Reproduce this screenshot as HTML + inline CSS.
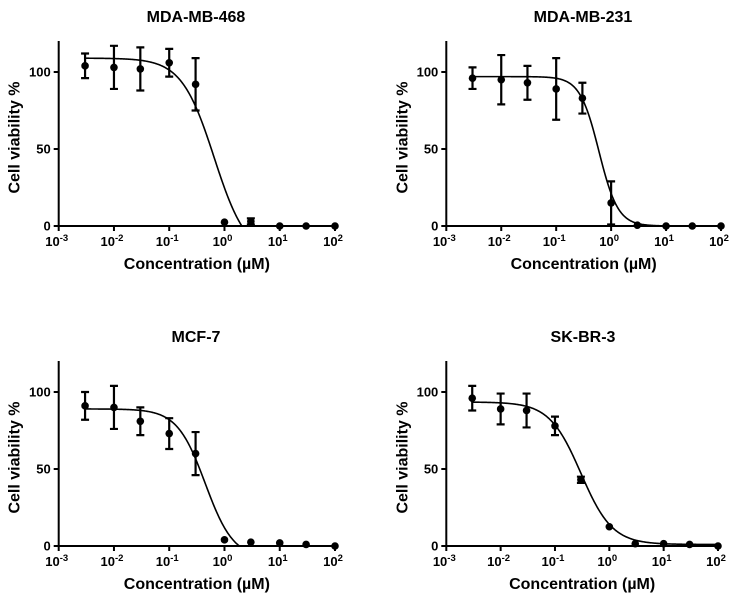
<!DOCTYPE html>
<html><head><meta charset="utf-8"><style>
html,body{margin:0;padding:0;background:#fff}
svg{display:block;font-family:"Liberation Sans",Arial,sans-serif;font-weight:bold}
</style></head><body>
<svg id="fig" width="740" height="600" viewBox="0 0 740 600" xmlns="http://www.w3.org/2000/svg"></svg>
<script>
const concentrations=[0.003,0.01,0.03,0.1,0.3,1,3,10,30,100];
const titles=["MDA-MB-468","MDA-MB-231","MCF-7","SK-BR-3"];
const viab468=[104,103,102,106,92,2.5,3,0,0,0];
const err468=[8,14,14,9,17,0,2,0,0,0];
const viab231=[96,95,93,89,83,15,0.5,0,0,0];
const err231=[7,16,11,20,10,14,0,0,0,0];
const viabMCF7=[91,90,81,73,60,4,2.5,2,1,0];
const errMCF7=[9,14,9,10,14,0,0,0,0,0];
const viabSKBR3=[96,89,88,78,43,12.5,1.5,1.5,1,0];
const errSKBR3=[8,10,11,6,2,0,0,0,0,0];
// 4PL fit params: top, bottom, ec50, hill
const fit468=[109,-20,0.65,1.47];
const fit231=[97,0,0.6,2.5];
const fitMCF7=[89,-8,0.45,1.7];
const fitSKBR3=[93.5,1,0.3,1.5];
const xTickExp=[-3,-2,-1,0,1,2];
const yTicks=[0,50,100];

const NS="http://www.w3.org/2000/svg";
const svg=document.getElementById('fig');
function mk(t,a,p){const e=document.createElementNS(NS,t);for(const k in a)e.setAttribute(k,a[k]);(p||svg).appendChild(e);return e;}
const panels=[
 {x0:58.7,x1:335,y0:226,y100:72,ytop:41,cx:196,ty:22,vals:viab468,errs:err468,fit:fit468,key:'mda-mb-468'},
 {x0:446.3,x1:721,y0:226,y100:72,ytop:41,cx:583,ty:22,vals:viab231,errs:err231,fit:fit231,key:'mda-mb-231'},
 {x0:58.7,x1:335,y0:546,y100:392,ytop:361,cx:196,ty:342,vals:viabMCF7,errs:errMCF7,fit:fitMCF7,key:'mcf-7'},
 {x0:446.3,x1:718,y0:546,y100:392,ytop:361,cx:583,ty:342,vals:viabSKBR3,errs:errSKBR3,fit:fitSKBR3,key:'sk-br-3'}
];
panels.forEach((p,i)=>{
 const g=mk('g',{});
 
 
 const X=v=>p.x0+(Math.log10(v)+3)*(p.x1-p.x0)/5;
 const Y=v=>p.y0-(v/100)*(p.y0-p.y100);
 const t=mk('text',{x:p.cx,y:p.ty,'text-anchor':'middle','font-size':'16'},g);t.textContent=titles[i];
 
 const ya=mk('line',{x1:p.x0,y1:p.ytop,x2:p.x0,y2:p.y0+1,stroke:'#000','stroke-width':2},g);
 
 const xa=mk('line',{x1:p.x0-1,y1:p.y0,x2:p.x1+1,y2:p.y0,stroke:'#000','stroke-width':2},g);
 
 yTicks.forEach(v=>{
  mk('line',{x1:p.x0-5,y1:Y(v),x2:p.x0,y2:Y(v),stroke:'#000','stroke-width':2},g);
  const l=mk('text',{x:p.x0-8,y:Y(v)+4.5,'text-anchor':'end','font-size':'13'},g);l.textContent=v;
  
 });
 xTickExp.forEach(e=>{
  const x=X(Math.pow(10,e));
  mk('line',{x1:x,y1:p.y0,x2:x,y2:p.y0+5,stroke:'#000','stroke-width':2},g);
  const l=mk('text',{x:x-2,y:p.y0+20,'text-anchor':'middle','font-size':'13'},g);
  l.textContent='10';
  
  const s=mk('tspan',{dy:'-5','font-size':'9.5'},l);s.textContent=e;
 });
 const xt=mk('text',{x:(p.x0+p.x1)/2,y:p.y0+43,'text-anchor':'middle','font-size':'16'},g);
 xt.textContent='Concentration (µM)';
 
 const yl=mk('text',{x:0,y:0,'text-anchor':'middle','font-size':'16',transform:`translate(${p.x0-39},${(p.y0+p.ytop)/2+4}) rotate(-90)`},g);
 yl.textContent='Cell viability %';
 
 const [top,bot,ec,h]=p.fit;
 let d='';let started=false;
 for(let k=0;k<=400;k++){
  const lx=-2.52+k*(4.52/400);const c=Math.pow(10,lx);
  let v=bot+(top-bot)/(1+Math.pow(c/ec,h));
  if(v<0){v=0;}
  d+=(started?'L':'M')+X(c).toFixed(2)+','+Y(v).toFixed(2);started=true;
 }
 const cv=mk('path',{d:d,fill:'none',stroke:'#000','stroke-width':1.6},g);
 
 concentrations.forEach((c,j)=>{
  const x=X(c),v=p.vals[j],e=p.errs[j];
  if(e>0){
   const eb=mk('path',{d:`M${x},${Y(v+e)}L${x},${Y(v-e)}M${x-4},${Y(v+e)}L${x+4},${Y(v+e)}M${x-4},${Y(v-e)}L${x+4},${Y(v-e)}`,stroke:'#000','stroke-width':2.2,fill:'none'},g);
   
  }
  const pt=mk('circle',{cx:x,cy:Y(v),r:3.8,fill:'#000'},g);
  
 });
});
</script>
</body></html>
